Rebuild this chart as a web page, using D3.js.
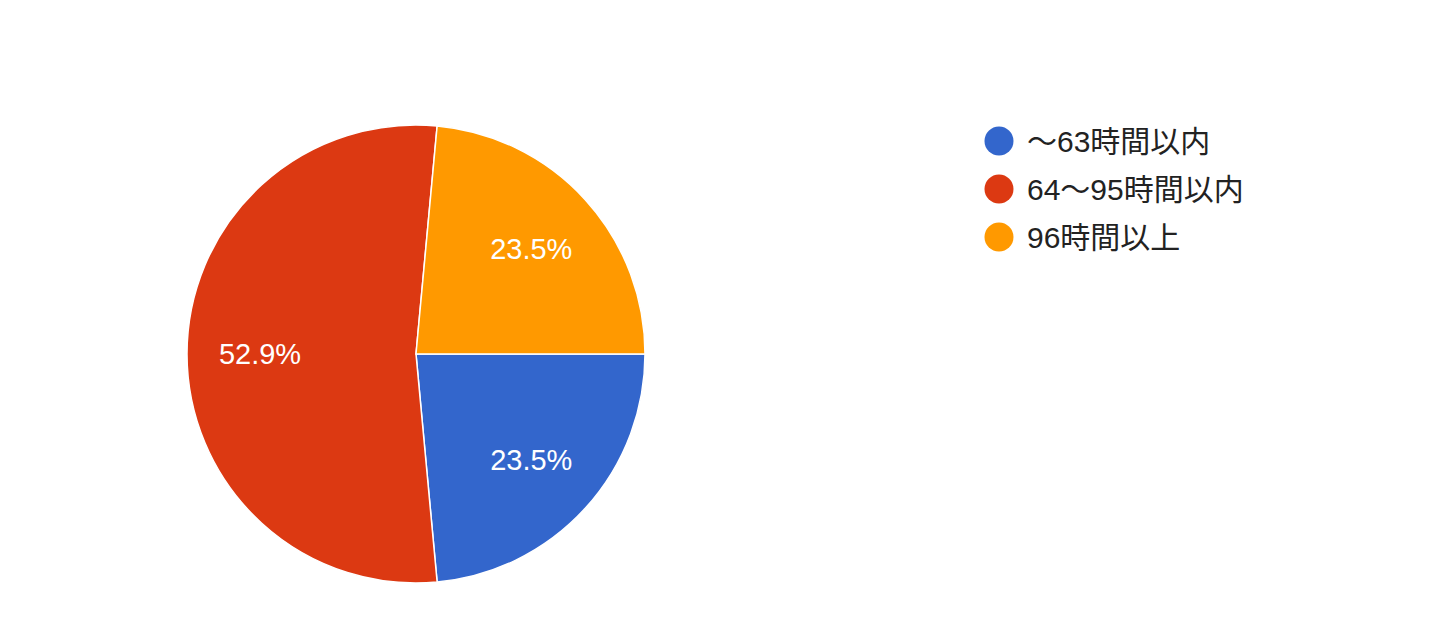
<!DOCTYPE html>
<html><head><meta charset="utf-8">
<script src="https://cdn.jsdelivr.net/npm/d3@7"></script>
<style>html,body{margin:0;padding:0;background:#fff;}</style>
</head><body>
<svg id="c" width="1440" height="639"></svg>
<script>
const categories = ["～63時間以内", "64～95時間以内", "96時間以上"];
const values = [4, 9, 4];
const colors = ["#3366cc", "#dc3912", "#ff9900"];

const svg = d3.select("#c");
const cx = 416, cy = 354, r = 229, labelR = 156;
const font = "Arial, 'Liberation Sans', 'Noto Sans CJK JP', sans-serif";

const pie = d3.pie().sort(null).value(d => d)
  .startAngle(Math.PI / 2).endAngle(Math.PI / 2 + 2 * Math.PI);
const arcs = pie(values);
const arc = d3.arc().innerRadius(0).outerRadius(r);
const labelArc = d3.arc().innerRadius(labelR).outerRadius(labelR);
const total = d3.sum(values);

const g = svg.append("g").attr("transform", `translate(${cx},${cy})`);
g.selectAll("path").data(arcs).join("path")
  .attr("d", arc)
  .attr("fill", (d, i) => colors[i])
  .attr("stroke", "#fff").attr("stroke-width", 1.5);

g.selectAll("text").data(arcs).join("text")
  .attr("transform", d => `translate(${labelArc.centroid(d)})`)
  .attr("text-anchor", "middle").attr("dy", "0.36em")
  .attr("fill", "#fff").attr("font-family", font).attr("font-size", 29)
  .text(d => (d.value / total * 100).toFixed(1) + "%");

const leg = svg.append("g").attr("transform", "translate(999,141)");
const items = leg.selectAll("g").data(categories).join("g")
  .attr("transform", (d, i) => `translate(0,${i * 48})`);
items.append("circle").attr("r", 14.5).attr("fill", (d, i) => colors[i]);
items.append("text").attr("x", 28).attr("dy", "0.36em")
  .attr("fill", "#222").attr("font-family", font).attr("font-size", 30)
  .text(d => d);
</script>
</body></html>
